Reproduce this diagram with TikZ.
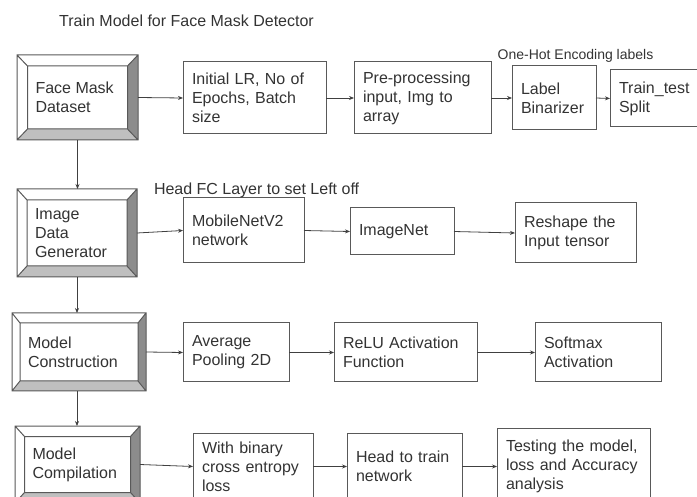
\documentclass[tikz,border=0pt]{standalone}
\usepackage{fontspec}
\setmainfont{Liberation Sans}
\usetikzlibrary{arrows.meta}

\begin{document}
\begin{tikzpicture}[x=1pt, y=-1pt,
            every node/.style = {inner sep = 0pt,
                                 outer sep = 0pt,
                                 text      = black!80,
                                 font      = \fontsize{16}{19}\selectfont},
            blk/.style   = {draw = black!65, line width = 1pt,
                            inner xsep = 9pt, align = left,
                            minimum height = #1},
            bevel/.style = {fill = white},
            darkface/.style  = {fill = black!45},
            lightface/.style = {fill = black!25},
            edge/.style  = {draw = black!65, line width = 1pt},
            arr/.style   = {draw = black!75, line width = 0.8pt,
                            -{Stealth[length = 5pt, width = 4pt]}}
            ]
            \newcommand{\bevelbox}[7]{%
            \node [bevel,
                   minimum width  = #3,
                   minimum height = #4] (#1) at (#2) {};
            \path ([shift={(#5,#6)}]#1.north west)   coordinate (#1 a)
                  ([shift={(-#5,#6)}]#1.north east)  coordinate (#1 b)
                  ([shift={(-#5,-#6)}]#1.south east) coordinate (#1 c)
                  ([shift={(#5,-#6)}]#1.south west)  coordinate (#1 d);
            \fill [darkface]  (#1.north east) -- (#1 b) -- (#1 c) -- (#1.south east) -- cycle;
            \fill [lightface] (#1.south west) -- (#1 d) -- (#1 c) -- (#1.south east) -- cycle;
            \draw [edge] (#1.north west) rectangle (#1.south east)
                         (#1 a) rectangle (#1 c)
                         (#1.north west) -- (#1 a)  (#1.north east) -- (#1 b)
                         (#1.south east) -- (#1 c)  (#1.south west) -- (#1 d);
            \node [align  = left,
                   anchor = west] (#1 text) at ([xshift = #5 + 8]#1.west) {#7};
            }
            \useasboundingbox (0,0) rectangle (697,497);
            \clip (0,0) rectangle (697,497);

            \node (title) at (186.5,21) {Train Model for Face Mask Detector};

            % row 1
            \bevelbox{fmd}{77.5,97.5}{121}{85}{10.5}{11}{Face Mask\\Dataset}
            \node [blk=72, text width=125] (lr)   at (254.5,98) {Initial LR, No of\\Epochs, Batch\\size};
            \node [blk=72, text width=119] (prep) at (422.5,98) {Pre-processing\\input, Img to\\array};
            \node [blk=64, text width=66]  (lbl)  at (554,98)   {Label\\Binarizer};
            \node [blk=57, text width=77]  (tts)  at (657.5,98.5) {Train\_test\\Split};
            \node [font=\fontsize{14}{16}\selectfont] (onehot) at (575.5,56) {One-Hot Encoding labels};

            % row 2
            \bevelbox{idg}{77,233}{120}{88}{10}{11}{Image\\Data\\Generator}
            \node [blk=65, text width=103] (mob)  at (243.5,230.5) {MobileNetV2\\network};
            \node [blk=47, text width=86]  (inet) at (402,231.5)   {ImageNet};
            \node [blk=60, text width=103] (resh) at (575.5,233)   {Reshape the\\Input tensor};
            \node [anchor=west] (headfc) at (154,190) {Head FC Layer to set Left off};

            % row 3
            \bevelbox{mcon}{79,352}{134}{78}{8}{10}{Model\\Construction}
            \node [blk=59, text width=88]  (avg)  at (236,352.5)   {Average\\Pooling 2D};
            \node [blk=59, text width=125] (relu) at (405.5,352.5) {ReLU Activation\\Function};
            \node [blk=59, text width=108] (soft) at (598,352.5)   {Softmax\\Activation};

            % row 4
            \bevelbox{mcom}{77.5,464.5}{125}{77}{9.5}{10.5}{Model\\Compilation}
            \node [blk=67, text width=102] (bce)  at (253,466.5)   {With binary\\cross entropy\\loss};
            \node [blk=67, text width=97]  (htt)  at (404.5,466.5) {Head to train\\network};
            \node [blk=77, text width=135] (test) at (573.5,466.5) {Testing the model,\\loss and Accuracy\\analysis};

            \draw [arr] (fmd.east)  -- (lr.west);
            \draw [arr] (lr.east)   -- (prep.west);
            \draw [arr] (prep.east) -- (lbl.west);
            \draw [arr] (lbl.east)  -- (tts.west);
            \draw [arr] (idg.east)  -- (mob.west);
            \draw [arr] (mob.east)  -- (inet.west);
            \draw [arr] (inet.east) -- (resh.west);
            \draw [arr] (mcon.east) -- (avg.west);
            \draw [arr] (avg.east)  -- (relu.west);
            \draw [arr] (relu.east) -- (soft.west);
            \draw [arr] (mcom.east) -- (bce.west);
            \draw [arr] (bce.east)  -- (htt.west);
            \draw [arr] (htt.east)  -- (test.west);
            \draw [arr] (fmd.south) -- (fmd.south |- idg.north);
            \draw [arr] (idg.south) -- (idg.south |- mcon.north);
            \draw [arr] (idg.south |- mcon.south) -- (idg.south |- mcom.north);
\end{tikzpicture}
\end{document}
